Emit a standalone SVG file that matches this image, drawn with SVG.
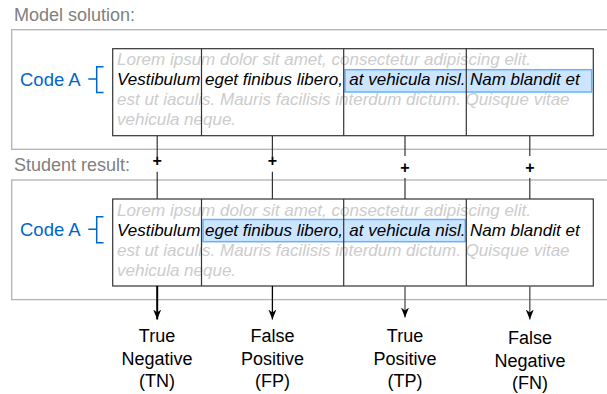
<svg xmlns="http://www.w3.org/2000/svg" width="607" height="394" viewBox="0 0 607 394">
<style>
.title{font-family:"Liberation Sans",Arial,sans-serif;font-size:18px;fill:#808080}
.code{font-family:"Liberation Sans",Arial,sans-serif;font-size:18.5px;fill:#0066CC}
.lorem{font-family:"Liberation Sans",Arial,sans-serif;font-size:17px;font-style:italic;fill:#CCCCCC}
.txt{font-family:"Liberation Sans",Arial,sans-serif;font-size:17px;font-style:italic;fill:#000}
.lbl{font-family:"Liberation Sans",Arial,sans-serif;font-size:18px;fill:#000;text-anchor:middle}
.plus{font-family:"Liberation Sans",Arial,sans-serif;font-size:16px;font-weight:bold;fill:#000;text-anchor:middle}
.outer{fill:none;stroke:#B3B3B3;stroke-width:1.3}
.inner{fill:#fff;stroke:#333;stroke-width:1.2}
.div{stroke:#333;stroke-width:1.2}
.hl{fill:#CCE5FF;stroke:#66B2FF;stroke-width:1.5}
.br{fill:none;stroke:#0066CC;stroke-width:1.5}
.edge{stroke:#333;stroke-width:1.2;fill:none}
</style>
<defs>
<marker id="ah" markerWidth="10" markerHeight="10" viewBox="0 0 10 10" refX="10" refY="5" orient="auto" markerUnits="userSpaceOnUse">
<path d="M0,1 L10,5 L0,9 L3,5 Z" fill="#000"/>
</marker>
</defs>

<g id="model">
<text class="title" x="14" y="20.5">Model solution:</text>
<rect class="outer" x="11.7" y="29.7" width="620" height="119.6"/>
<text class="code" x="20" y="86">Code A</text>
<path class="br" d="M88.3,79 H96.7 M103.5,66.7 H96.7 V92.5 H103.5"/>
<rect class="inner" x="112.7" y="48.7" width="480.6" height="87"/>
<rect class="hl" x="345" y="69.7" width="246.7" height="22.3"/>
<text class="lorem" x="117" y="65">Lorem ipsum dolor sit amet, consectetur adipiscing elit.</text>
<text class="txt" x="117" y="85">Vestibulum</text>
<text class="txt" x="205" y="85">eget finibus libero,</text>
<text class="txt" x="349.3" y="85">at vehicula nisl.</text>
<text class="txt" x="470" y="85">Nam blandit et</text>
<text class="lorem" x="117" y="105">est ut iaculis. Mauris facilisis interdum dictum. Quisque vitae</text>
<text class="lorem" x="117" y="125">vehicula neque.</text>
<path class="div" d="M201.5,48.7 V135.7 M343.7,48.7 V135.7 M466.3,48.7 V135.7"/>
</g>

<g id="student">
<text class="title" x="14" y="171">Student result:</text>
<rect class="outer" x="11.7" y="180" width="620" height="119.6"/>
<text class="code" x="20" y="236">Code A</text>
<path class="br" d="M88.3,229.3 H96.7 M103.5,216.7 H96.7 V242.7 H103.5"/>
<rect class="inner" x="112.7" y="199" width="480.6" height="87"/>
<rect class="hl" x="203" y="219.5" width="262.3" height="22.2"/>
<text class="lorem" x="117" y="215.5">Lorem ipsum dolor sit amet, consectetur adipiscing elit.</text>
<text class="txt" x="117" y="235.5">Vestibulum</text>
<text class="txt" x="205" y="235.5">eget finibus libero,</text>
<text class="txt" x="349.3" y="235.5">at vehicula nisl.</text>
<text class="txt" x="470" y="235.5">Nam blandit et</text>
<text class="lorem" x="117" y="255.5">est ut iaculis. Mauris facilisis interdum dictum. Quisque vitae</text>
<text class="lorem" x="117" y="275.5">vehicula neque.</text>
<path class="div" d="M201.5,199 V286 M343.7,199 V286 M466.3,199 V286"/>
</g>

<g id="connectors">
<path class="edge" d="M157.2,135.7 V156.5 M157.2,171.7 V199"/>
<path class="edge" d="M272.4,135.7 V156.5 M272.4,171.7 V199"/>
<path class="edge" d="M405,135.7 V156 M405,178 V199"/>
<path class="edge" d="M529.8,135.7 V156 M529.8,178 V199"/>
<text class="plus" x="157.2" y="165.5">+</text>
<text class="plus" x="272.4" y="165.5">+</text>
<text class="plus" x="405" y="172.5">+</text>
<text class="plus" x="529.8" y="172.5">+</text>
<path d="M157.2,286 V319.5" stroke="#000" stroke-width="2" marker-end="url(#ah)"/>
<path d="M272.4,286 V319.5" stroke="#000" stroke-width="1.3" marker-end="url(#ah)"/>
<path d="M405,286 V317.5" stroke="#666" stroke-width="1.5" marker-end="url(#ah)"/>
<path d="M529.8,286 V319.5" stroke="#666" stroke-width="1.5" marker-end="url(#ah)"/>
</g>

<g id="tn"><text class="lbl" x="157" y="342">True</text><text class="lbl" x="157" y="364.5">Negative</text><text class="lbl" x="157" y="387">(TN)</text></g>
<g id="fp"><text class="lbl" x="272.4" y="342">False</text><text class="lbl" x="272.4" y="364.5">Positive</text><text class="lbl" x="272.4" y="387">(FP)</text></g>
<g id="tp"><text class="lbl" x="405" y="342">True</text><text class="lbl" x="405" y="364.5">Positive</text><text class="lbl" x="405" y="387">(TP)</text></g>
<g id="fn"><text class="lbl" x="530" y="344">False</text><text class="lbl" x="530" y="366.5">Negative</text><text class="lbl" x="530" y="389">(FN)</text></g>
</svg>
